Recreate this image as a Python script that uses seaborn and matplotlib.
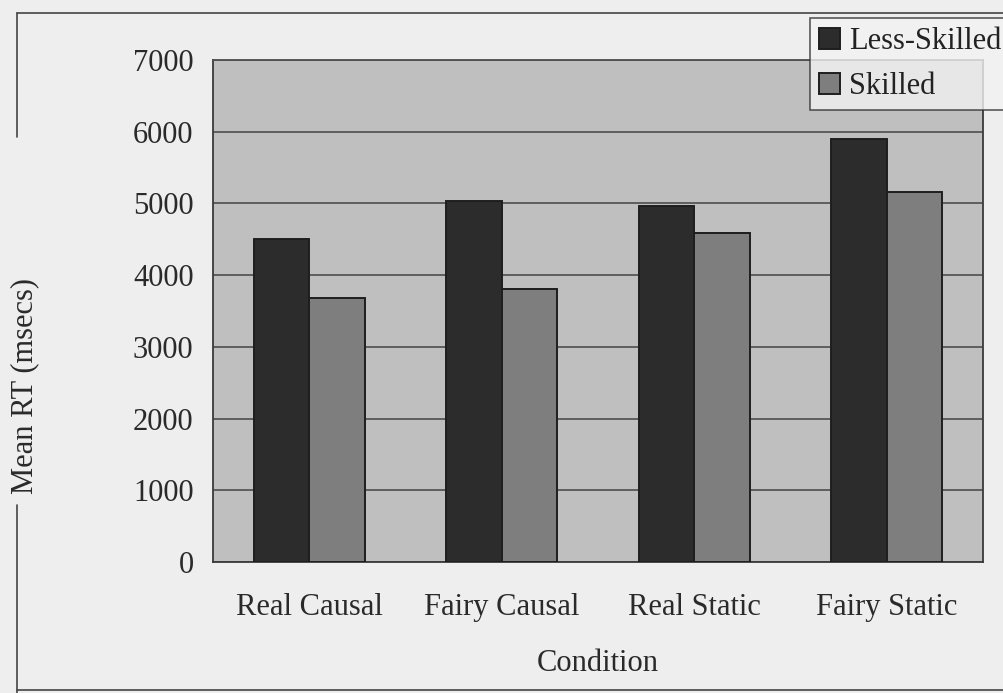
import matplotlib
matplotlib.use("Agg")
import matplotlib.pyplot as plt
from matplotlib.lines import Line2D
import seaborn as sns
import pandas as pd
import numpy as np

# Mean reaction times per condition and reader group
conditions = ["Real Causal", "Fairy Causal", "Real Static", "Fairy Static"]
groups = ["Less-Skilled", "Skilled"]
less_skilled = [4500, 5030, 4970, 5900]
skilled = [3680, 3800, 4590, 5160]
y_ticks = [0, 1000, 2000, 3000, 4000, 5000, 6000, 7000]

df = pd.DataFrame({
    "Condition": conditions * 2,
    "Group": [groups[0]] * len(conditions) + [groups[1]] * len(conditions),
    "RT": less_skilled + skilled,
})

sns.set_theme(style="white")
plt.rcParams["font.family"] = ["Liberation Serif", "DejaVu Serif"]

W, H = 1004, 693
fig = plt.figure(figsize=(W / 100, H / 100), dpi=100)
fig.patch.set_facecolor("#eeeeee")

ax = fig.add_axes([213 / W, 1 - 562 / H, (983 - 213) / W, (562 - 60) / H])
ax.set_facecolor("#bfbfbf")

palette = {"Less-Skilled": "#2c2c2c", "Skilled": "#7e7e7e"}
sns.barplot(data=df, x="Condition", y="RT", hue="Group", hue_order=groups,
            order=conditions, palette=palette, width=0.575, gap=0,
            edgecolor="#1e1e1e", linewidth=1.4, saturation=1, ax=ax,
            legend=True, zorder=3)

ax.set_ylim(0, 7000)
ax.set_yticks(y_ticks)
ax.set_yticklabels([str(t) for t in y_ticks])
ax.set_xlim(-0.5, len(conditions) - 0.5)
ax.yaxis.grid(True, color="#4e4e4e", linewidth=1.2, zorder=0)
ax.set_axisbelow(True)

# category boundaries carry the tick marks, labels sit at the centres
ax.set_xticks(np.arange(-0.5, len(conditions), 1.0))
ax.set_xticklabels([""] * (len(conditions) + 1))
ax.set_xticks(np.arange(len(conditions)), minor=True)
ax.set_xticklabels(conditions, minor=True)
ax.tick_params(axis="x", which="major", direction="out", length=8,
               width=1.2, color="#333333")
ax.tick_params(axis="x", which="minor", length=0, pad=22,
               labelsize=22, labelcolor="#2a2a2a")
ax.tick_params(axis="y", direction="out", length=8, width=1.2,
               color="#333333", pad=6, labelsize=22, labelcolor="#2a2a2a")

for side in ["left", "bottom", "right", "top"]:
    ax.spines[side].set_visible(True)
    ax.spines[side].set_color("#3a3a3a")
    ax.spines[side].set_linewidth(1.3)
ax.spines["top"].set_color("#4e4e4e")

ax.set_xlabel("Condition", fontsize=22, color="#2a2a2a", labelpad=20)
ax.set_ylabel("")
fig.text(25 / W, 1 - 386 / H, "Mean RT (msecs)", rotation=90, fontsize=22,
         color="#2a2a2a", ha="center", va="center")

leg = ax.legend(loc="upper left", bbox_to_anchor=(810 / W, 1 - 18 / H),
                bbox_transform=fig.transFigure, fontsize=22, frameon=True,
                handlelength=0.68, handleheight=0.68, handletextpad=0.3,
                borderpad=0.3, labelspacing=0.52, borderaxespad=0,
                fancybox=False)
leg.get_frame().set_facecolor("#f2f2f2")
leg.get_frame().set_edgecolor("#333333")
leg.get_frame().set_linewidth(1.2)
for t in leg.get_texts():
    t.set_color("#222222")

# outer chart frame, broken where the y label sits
frame_kw = dict(color="#444444", linewidth=1.2, transform=fig.transFigure)
fig.add_artist(Line2D([17 / W, 1.0], [1 - 13 / H, 1 - 13 / H], **frame_kw))
fig.add_artist(Line2D([17 / W, 17 / W], [1 - 13 / H, 1 - 137 / H], **frame_kw))
fig.add_artist(Line2D([17 / W, 17 / W], [1 - 505 / H, 0.0], **frame_kw))
fig.add_artist(Line2D([17 / W, 1.0], [1 - 690 / H, 1 - 690 / H], **frame_kw))

fig.savefig("out.png", dpi=100, facecolor=fig.get_facecolor())
